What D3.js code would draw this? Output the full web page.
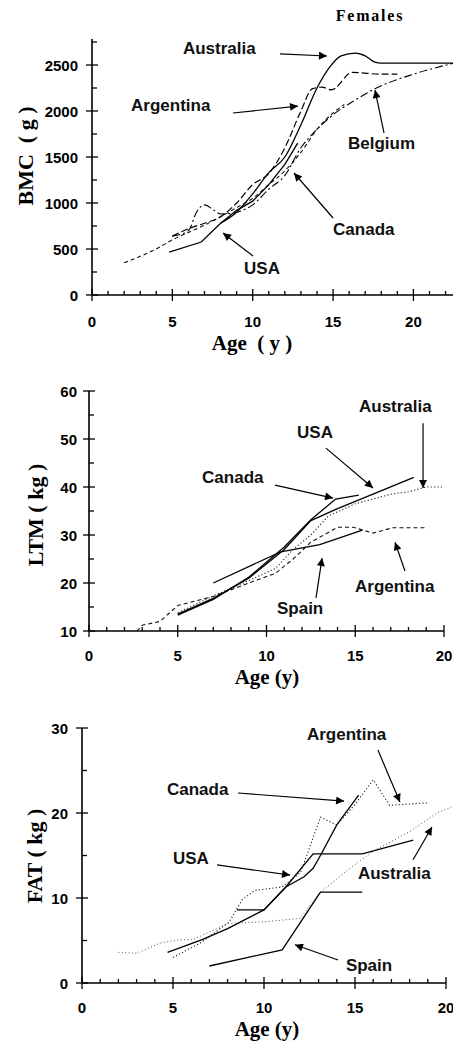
<!DOCTYPE html>
<html><head><meta charset="utf-8">
<script src="https://cdn.jsdelivr.net/npm/d3@7"></script>
<style>body{margin:0;background:#fff}svg{display:block}</style>
</head><body>
<svg id="c" width="453" height="1041"></svg>
<script>
// ---------- DATA ----------
// Panel 1: BMC (g)
const bmcAustralia = [[8,780],[9,900],[10,1100],[11,1330],[12,1500],[13,1850],[14,2250],[14.8,2480],[15.5,2600],[16.4,2630],[17,2600],[17.6,2530],[18,2520],[22.5,2520]];
const bmcUSA = [[4.8,467],[6.8,576],[8,780],[9,920],[10,1020],[11,1200],[12,1420],[12.8,1650]];
const bmcArgentina = [[5,640],[6,720],[7,780],[8,850],[9,1000],[10,1200],[11,1320],[12,1600],[13,2000],[13.7,2240],[14.3,2260],[14.9,2230],[16.2,2420],[18,2400],[19,2400]];
const bmcCanada = [[2,350],[3,420],[4,500],[5,600],[6,680],[7,760],[8,850],[9,950],[10,1050],[11,1200],[12,1350],[13,1550],[14,1800],[15,1980],[15.7,2070]];
const bmcBelgium = [[5,640],[6,700],[6.5,900],[7,980],[7.6,920],[8,880],[9,900],[10,980],[11,1150],[12,1300],[13,1600],[14,1800],[15,1960],[16.2,2100],[17.7,2250],[20,2400],[22.5,2520]];
const bmcYTicks = [0,500,1000,1500,2000,2500];
const bmcXTicks = [0,5,10,15,20];
// Panel 2: LTM (kg)
const ltmUSA = [[5,13.5],[7,16.8],[9,21],[11,27],[12.5,33],[14,35.5],[16,38.5],[18.3,42]];
const ltmCanada = [[5,13.3],[7,16.6],[9,21.2],[11,27.5],[12.5,33.2],[13.9,37.5],[15.2,38.3]];
const ltmSpain = [[7,20],[10.8,26.5],[13,28],[15.4,31]];
const ltmAustralia = [[5,13.8],[7,17.3],[9,20.5],[10.5,23],[11.5,27],[12.5,30],[13.5,34],[15,36.5],[16,37.5],[17,38.5],[18,39],[19,40],[20,40]];
const ltmArgentina = [[2.7,10],[3,11.2],[4,12],[5,15.3],[7,17.2],[9,20],[10.5,22],[11.5,25],[12.5,28.5],[14,31.6],[14.9,31.6],[16,30.4],[17.1,31.5],[19,31.5]];
const ltmYTicks = [10,20,30,40,50,60];
const ltmXTicks = [0,5,10,15,20];
// Panel 3: FAT (kg)
const fatArgentina = [[5,3.0],[6.5,4.7],[8.1,7.2],[8.8,9.8],[9.5,10.9],[11,11.3],[12,13],[12.4,15.3],[13.1,19.5],[14,18.6],[15,21],[16,23.9],[16.9,20.9],[19,21.2]];
const fatAustralia = [[2,3.6],[3,3.5],[4.3,4.7],[5.4,5.1],[6.1,5.1],[8,7],[10,7.2],[12,7.6],[13,10.5],[14.6,13.3],[16,15.5],[18,17.8],[19.5,20],[20.3,20.7]];
const fatUSA = [[4.7,3.6],[6.6,5.1],[8,6.4],[10,8.6],[11.2,11.3],[12.7,15.2],[15.4,15.2],[18.2,16.8]];
const fatCanada = [[8.5,8.6],[10,8.6],[11.2,11.3],[12.2,12.5],[12.7,13.5],[13.1,15],[14,18.6],[15.2,22.1]];
const fatSpain = [[7,2.0],[11,3.9],[13.1,10.7],[15.4,10.7]];
const fatYTicks = [0,10,20,30];
const fatXTicks = [0,5,10,15,20];

// annotations: label, label anchor (data), arrow start (data), arrow end (data)
const bmcNotes = [
  {t:"Australia", at:[5.66,2620], from:[11.7,2620], to:[14.62,2598]},
  {t:"Argentina", at:[2.43,2000], from:[8.77,1978], to:[12.82,2054]},
  {t:"Belgium", at:[15.93,1587], from:[18.17,1761], to:[17.61,2228]},
  {t:"Canada", at:[15.0,652], from:[15.0,837], to:[12.57,1326]},
  {t:"USA", at:[9.46,228], from:[10.02,424], to:[8.15,674]}
];
const ltmNotes = [
  {t:"Australia", at:[15.21,55.6], from:[18.82,53.3], to:[18.82,39.8]},
  {t:"USA", at:[11.72,50.2], from:[13.35,48.1], to:[16.0,39.8]},
  {t:"Canada", at:[6.37,40.8], from:[10.48,40.4], to:[13.75,37.7]},
  {t:"Argentina", at:[14.99,18.1], from:[17.8,22.5], to:[17.24,28.5]},
  {t:"Spain", at:[10.59,13.5], from:[12.79,16.9], to:[13.13,25.2]}
];
const fatNotes = [
  {t:"Argentina", at:[12.36,28.6], from:[16.26,27.4], to:[17.47,21.3]},
  {t:"Canada", at:[4.67,22.1], from:[8.57,22.35], to:[14.4,21.4]},
  {t:"USA", at:[5.0,14.0], from:[7.42,13.9], to:[11.43,12.7]},
  {t:"Australia", at:[15.16,12.2], from:[18.19,14.5], to:[19.23,18.35]},
  {t:"Spain", at:[14.5,1.4], from:[14.07,2.7], to:[11.7,4.5]}
];

// ---------- DRAW ----------
const svg = d3.select("#c");
const defs = svg.append("defs");
defs.append("marker").attr("id","ah").attr("viewBox","0 0 10 10").attr("refX",10).attr("refY",5)
  .attr("markerWidth",12).attr("markerHeight",8).attr("markerUnits","userSpaceOnUse").attr("orient","auto")
  .append("path").attr("d","M0,0 L10,5 L0,10 Z").attr("fill","#000");

const styles = {
  solid: {dash:null, w:1.3, c:"#000"},
  dash: {dash:"7,3", w:1.2, c:"#000"},
  sdash: {dash:"4,3", w:1.1, c:"#111"},
  dashdot: {dash:"8,3,2,3", w:1.1, c:"#000"},
  dot: {dash:"1.2,2.2", w:1.1, c:"#222"},
  dotl: {dash:"1,2.4", w:1, c:"#555"}
};
const SANS = "Liberation Sans, Arial, sans-serif";
const SERIF = "Liberation Serif, Times New Roman, serif";

function panel(cfg){
  const g = svg.append("g");
  const x = d3.scaleLinear().domain(cfg.xd).range(cfg.xr);
  const y = d3.scaleLinear().domain(cfg.yd).range(cfg.yr);
  const x0 = cfg.xr[0], y0 = cfg.yr[0];
  g.append("line").attr("x1",x0).attr("x2",cfg.xr[1]).attr("y1",y0).attr("y2",y0).attr("stroke","#000").attr("stroke-width",1.6);
  g.append("line").attr("x1",x0).attr("x2",x0).attr("y1",y0).attr("y2",cfg.yTop).attr("stroke","#000").attr("stroke-width",1.6);
  const xmin = d3.range(Math.ceil(cfg.xd[0]), Math.floor(cfg.xd[1])+1, 1);
  g.selectAll(".xm").data(xmin).join("line").attr("x1",d=>x(d)).attr("x2",d=>x(d))
    .attr("y1",d=>cfg.xTicks.includes(d)? y0+6 : y0).attr("y2",d=>cfg.xTicks.includes(d)? y0-6 : y0-4)
    .attr("stroke","#000").attr("stroke-width",1.3);
  g.selectAll(".xl").data(cfg.xTicks).join("text").attr("x",d=>x(d)).attr("y",y0+cfg.xlOff)
    .attr("text-anchor","middle").attr("font-family",SANS).attr("font-weight","bold")
    .attr("font-size",15).text(d=>d);
  const ymin = d3.range(cfg.yd[0], cfg.yTickMax+0.001, cfg.yMinor);
  g.selectAll(".ym").data(ymin).join("line").attr("y1",d=>y(d)).attr("y2",d=>y(d))
    .attr("x1",d=>cfg.yTicks.includes(d)? x0-6 : x0).attr("x2",d=>cfg.yTicks.includes(d)? x0+6 : x0+5)
    .attr("stroke","#000").attr("stroke-width",1.3);
  g.selectAll(".yl").data(cfg.yTicks).join("text").attr("x",x0-cfg.ylGap).attr("y",d=>y(d)+5.5)
    .attr("text-anchor","end").attr("font-family",SANS).attr("font-weight","bold")
    .attr("font-size",15).text(d=>d);
  g.append("text").attr("x",cfg.xtPos[0]).attr("y",cfg.xtPos[1]).attr("text-anchor","middle")
    .attr("font-family",SERIF).attr("font-weight","bold").attr("font-size",cfg.xtSize).style("white-space","pre").text(cfg.xt);
  g.append("text").attr("transform",`translate(${cfg.ytPos[0]},${cfg.ytPos[1]}) rotate(-90)`).attr("text-anchor","middle")
    .attr("font-family",SERIF).attr("font-weight","bold").attr("font-size",22).style("white-space","pre").text(cfg.yt);
  cfg.series.forEach(s=>{
    const st = styles[s.style];
    const line = d3.line().x(d=>x(d[0])).y(d=>y(d[1])).curve(s.smooth ? d3.curveMonotoneX : d3.curveLinear);
    g.append("path").attr("d",line(s.data)).attr("fill","none").attr("stroke",st.c)
      .attr("stroke-width",st.w).attr("stroke-dasharray",st.dash);
  });
  cfg.notes.forEach(n=>{
    g.append("text").attr("x",x(n.at[0])).attr("y",y(n.at[1])).attr("font-family",SANS)
      .attr("font-size",17).attr("font-weight","bold").attr("fill","#111").text(n.t);
    g.append("line").attr("x1",x(n.from[0])).attr("y1",y(n.from[1])).attr("x2",x(n.to[0])).attr("y2",y(n.to[1]))
      .attr("stroke","#000").attr("stroke-width",1.2).attr("marker-end","url(#ah)");
  });
}

panel({
  xd:[0,22.5], xr:[92,453.6], yd:[0,2750], yr:[295,42], yTop:39, yTickMax:2750, yMinor:250,
  xTicks:bmcXTicks, yTicks:bmcYTicks, xlOff:32, ylGap:14,
  xt:"Age  ( y )", xtPos:[252,350], xtSize:21, yt:"BMC  ( g )", ytPos:[33,156],
  series:[
    {data:bmcCanada, style:"sdash", smooth:true},
    {data:bmcArgentina, style:"dash", smooth:true},
    {data:bmcBelgium, style:"dashdot", smooth:true},
    {data:bmcUSA, style:"solid"},
    {data:bmcAustralia, style:"solid", smooth:true}
  ],
  notes:bmcNotes
});
svg.append("text").attr("x",370).attr("y",21).attr("text-anchor","middle").attr("letter-spacing",1.8)
  .attr("font-family",SERIF).attr("font-weight","bold").attr("font-size",16).text("Females");

panel({
  xd:[0,20], xr:[89,444], yd:[10,60], yr:[631,391], yTop:391, yTickMax:60, yMinor:5,
  xTicks:ltmXTicks, yTicks:ltmYTicks, xlOff:30, ylGap:12,
  xt:"Age (y)", xtPos:[267,684], xtSize:21, yt:"LTM ( kg )", ytPos:[43,515],
  series:[
    {data:ltmArgentina, style:"sdash"},
    {data:ltmAustralia, style:"dot"},
    {data:ltmSpain, style:"solid"},
    {data:ltmUSA, style:"solid"},
    {data:ltmCanada, style:"solid"}
  ],
  notes:ltmNotes
});

panel({
  xd:[0,20], xr:[82,446], yd:[0,30], yr:[983,728], yTop:728, yTickMax:30, yMinor:5,
  xTicks:fatXTicks, yTicks:fatYTicks, xlOff:30, ylGap:14,
  xt:"Age (y)", xtPos:[267,1036], xtSize:21, yt:"FAT ( kg )", ytPos:[42,856],
  series:[
    {data:fatArgentina, style:"dot"},
    {data:fatAustralia, style:"dotl"},
    {data:fatSpain, style:"solid"},
    {data:fatUSA, style:"solid"},
    {data:fatCanada, style:"solid"}
  ],
  notes:fatNotes
});
</script>
</body></html>
